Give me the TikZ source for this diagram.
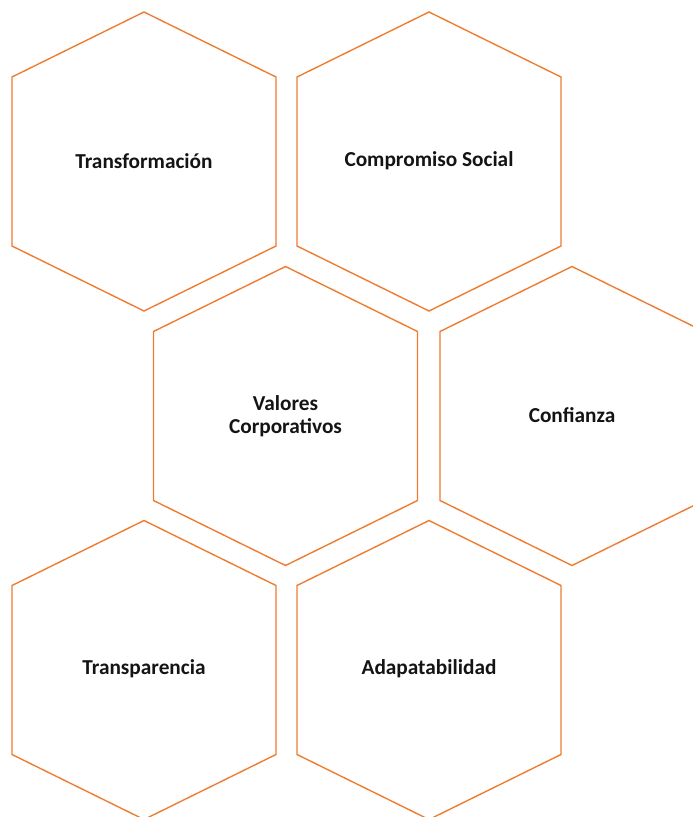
\documentclass[tikz,border=0pt]{standalone}
\usepackage{fontspec}
\setmainfont{Carlito}
\definecolor{hexorange}{RGB}{237,125,49}
\begin{document}
\begin{tikzpicture}[x=1pt,y=-1pt,
  hexline/.style={draw=hexorange,line width=1.4pt,line join=miter},
  lbl/.style={font=\bfseries\fontsize{21.3}{23}\selectfont,text=black!92,align=center},
  hexagon/.pic={\draw[hexline] (0,-149.5) -- (132,-84.5) -- (132,84.5) -- (0,149.5) -- (-132,84.5) -- (-132,-84.5) -- cycle;}]
\useasboundingbox (0,0) rectangle (693,817);
\clip (0,0) rectangle (693,817);
\pic at (144,161.5) {hexagon};
\pic at (429,161.5) {hexagon};
\pic at (285.5,416) {hexagon};
\pic at (572,416) {hexagon};
\pic at (144,670) {hexagon};
\pic at (429,670) {hexagon};
\node[lbl] (t1) at (144,161) {Transformación};
\node[lbl] (t2) at (429,161) {Compromiso Social};
\node[lbl] (t3) at (285.5,416) {Valores\\Corporativos};
\node[lbl] (t4) at (572,415) {Confianza};
\node[lbl] (t5) at (144,669) {Transparencia};
\node[lbl] (t6) at (429,669) {Adapatabilidad};
\end{tikzpicture}
\end{document}
